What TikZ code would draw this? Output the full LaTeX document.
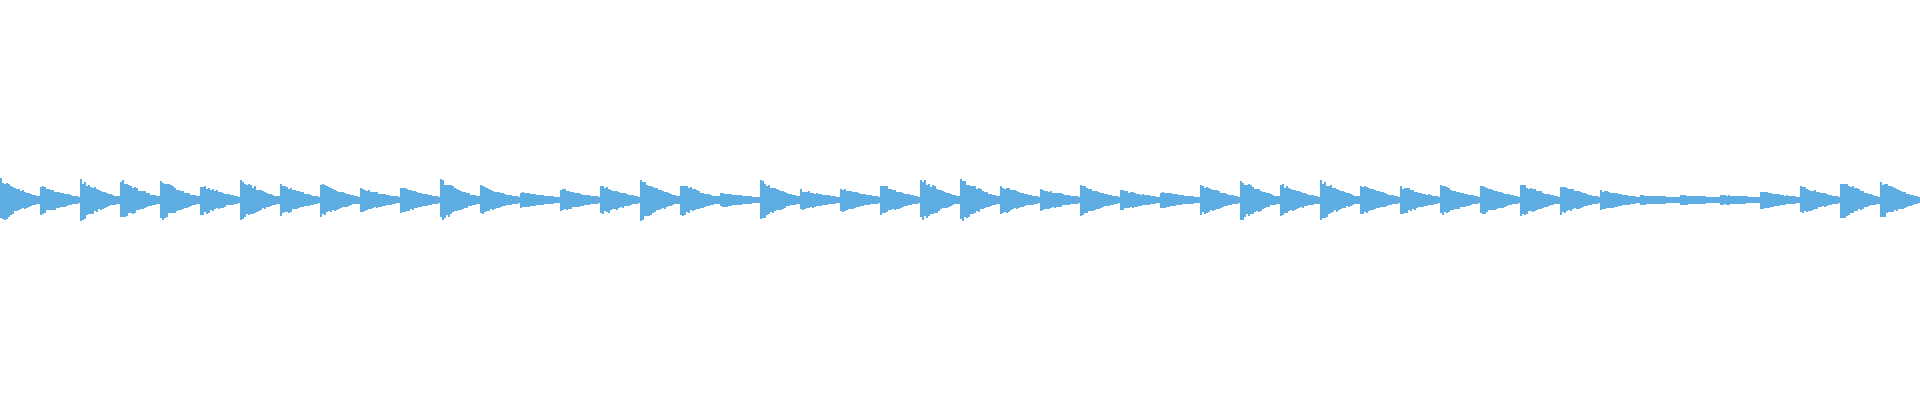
\documentclass[tikz,border=0pt]{standalone}
\usepackage{tikz}
\definecolor{wave}{RGB}{93,173,226}
\tikzset{ bar/.style = { fill = wave % sample bar
        , draw = none
        }
        }
\begin{document}
\begin{tikzpicture}[x=0.01cm, y=0.01cm]
        \useasboundingbox (0,0) rectangle (1920,400);
        \pgfmathsetseed{7}
        \foreach \amp [count=\i from 0] in {21,14,20,20,20,15,20,15,16,12,14,20,14,8,11,15,20,16,7,19,10,12,15,21,21,14,11,15,10,8,15,20,16,19,15,14,15,15,16,15,10,5,5,5,9,14,19,18} {
            \foreach \k in {0,...,19} {
                \pgfmathsetmacro{\up}{3+(\amp-3)*(1-\k/21)^1.4*(0.8+0.3*rnd)}
                \pgfmathsetmacro{\dn}{3+(\amp-3)*(1-\k/21)^1.4*(0.8+0.3*rnd)}
                \fill [bar] ({\i*40+\k*2},{200-\dn}) rectangle ({\i*40+\k*2+2.1},{200+\up});
            }
        }
\end{tikzpicture}
\end{document}
